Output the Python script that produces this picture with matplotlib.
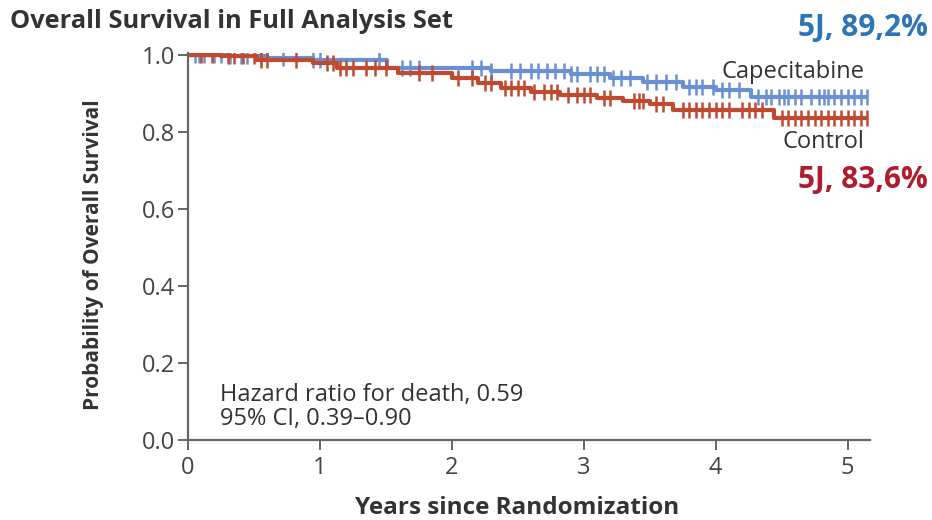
import numpy as np
import matplotlib.pyplot as plt

# Kaplan-Meier steps
cap_t = [0, 0.3, 0.6, 0.95, 1.51, 2.3, 2.9, 3.2, 3.45, 3.75, 4.0, 4.27]
cap_s = [1.0, 0.997, 0.993, 0.986, 0.966, 0.958, 0.950, 0.940, 0.930, 0.918, 0.909, 0.892]
ctl_t = [0, 0.25, 0.52, 0.95, 1.13, 1.59, 2.0, 2.2, 2.37, 2.6, 2.82, 3.1, 3.3, 3.5, 3.68, 4.44]
ctl_s = [1.0, 0.996, 0.988, 0.979, 0.966, 0.953, 0.940, 0.928, 0.915, 0.905, 0.896, 0.888,
         0.880, 0.872, 0.857, 0.836]
t_end = 5.15

# censoring times
cap_cens = [0.05, 0.08, 0.12, 0.2, 0.25, 0.32, 0.4, 0.45, 0.55, 0.72, 0.95, 1.0, 1.45, 1.62,
            1.68, 1.75, 2.15, 2.22, 2.3, 2.45, 2.52, 2.6, 2.65, 2.72, 2.78, 2.85, 2.9, 2.95,
            3.05, 3.1, 3.15, 3.22, 3.28, 3.35, 3.48, 3.55, 3.62, 3.7, 3.8, 3.85, 3.9, 3.98,
            4.05, 4.1, 4.18, 4.32, 4.38, 4.42, 4.48, 4.52, 4.55, 4.6, 4.65, 4.72, 4.78, 4.82,
            4.85, 4.9, 4.95, 5.0, 5.05, 5.1, 5.15]
ctl_cens = [0.1, 0.18, 0.3, 0.35, 0.42, 0.5, 0.55, 0.6, 0.82, 1.05, 1.1, 1.15, 1.2, 1.25,
            1.35, 1.42, 1.5, 1.75, 1.85, 2.05, 2.15, 2.25, 2.3, 2.4, 2.45, 2.5, 2.55, 2.62,
            2.7, 2.75, 2.8, 2.88, 2.95, 3.0, 3.05, 3.15, 3.2, 3.38, 3.42, 3.45, 3.55, 3.6,
            3.75, 3.8, 3.85, 3.9, 3.95, 4.0, 4.05, 4.1, 4.2, 4.25, 4.3, 4.35, 4.5, 4.55,
            4.6, 4.65, 4.7, 4.75, 4.8, 4.85, 4.9, 4.95, 5.0, 5.05, 5.1, 5.15]

blue = '#6a8fd2'
red = '#bf4a30'
txt = '#333333'
axc = '#666666'

plt.rcParams['font.family'] = ['Open Sans', 'DejaVu Sans']

fig = plt.figure(figsize=(9.32, 5.2), dpi=100)
ax = fig.add_axes([188/932, 1-440/520, 682/932, 387/520])


def km(ax, t, s, cens, col):
    tt = list(t) + [t_end]
    ss = list(s) + [s[-1]]
    ax.step(tt, ss, where='post', color=col, lw=3, solid_capstyle='butt')
    idx = np.searchsorted(np.array(t), np.array(cens), side='right') - 1
    ax.plot(cens, np.array(s)[idx], ls='none', marker='|', ms=11, mew=1.8, color=col)


km(ax, cap_t, cap_s, cap_cens, blue)
km(ax, ctl_t, ctl_s, ctl_cens, red)

ax.set_xlim(0, 5.17)
ax.set_ylim(0, 1.005)
ax.set_xticks([0, 1, 2, 3, 4, 5])
ax.set_yticks([0, 0.2, 0.4, 0.6, 0.8, 1.0])
ax.set_yticklabels(['0.0', '0.2', '0.4', '0.6', '0.8', '1.0'])
for side in ['top', 'right']:
    ax.spines[side].set_visible(False)
for side in ['left', 'bottom']:
    ax.spines[side].set_color(axc)
    ax.spines[side].set_linewidth(1.6)
ax.tick_params(colors=axc, labelcolor='#444444', labelsize=17, width=1.4, length=7.5,
               direction='out')
ax.tick_params(axis='x', pad=4)
ax.tick_params(axis='y', pad=2)

ax.set_ylabel('Probability of Overall Survival', fontsize=15, fontweight='bold', color=txt)
ax.set_xlabel('Years since Randomization', fontsize=17.5, fontweight='bold', color=txt)
ax.yaxis.set_label_coords((104-188)/682, (440-255)/387)
ax.xaxis.set_label_coords((517-188)/682, -(496-440)/387)

fig.text(10/932, 1-22/520, 'Overall Survival in Full Analysis Set', fontsize=18.3,
         fontweight='bold', color=txt, va='center', ha='left')
fig.text(928/932, 1-28/520, '5J, 89,2%', fontsize=21.5, fontweight='bold', color='#2e75b6',
         va='center', ha='right')
fig.text(928/932, 1-180/520, '5J, 83,6%', fontsize=21.5, fontweight='bold', color='#b01c2e',
         va='center', ha='right')

ax.text(5.13, 0.956, 'Capecitabine', fontsize=17, color=txt, ha='right', va='center')
ax.text(5.13, 0.775, 'Control', fontsize=17, color=txt, ha='right', va='center')
ax.text(0.24, 0.085, 'Hazard ratio for death, 0.59\n95% CI, 0.39\u20130.90', fontsize=17,
        color=txt, ha='left', va='center', linespacing=1.0)

fig.savefig('out.png', dpi=100)
